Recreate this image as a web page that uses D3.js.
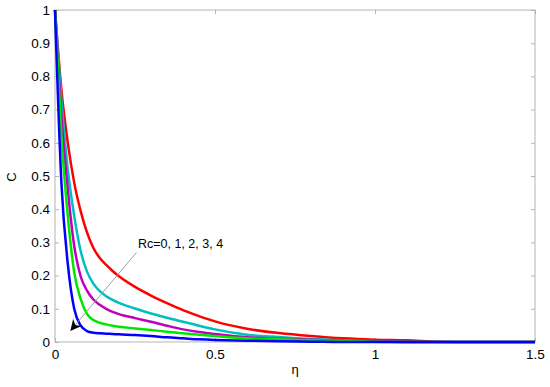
<!DOCTYPE html>
<html>
<head>
<meta charset="utf-8">
<script src="https://cdn.jsdelivr.net/npm/d3@7"></script>
<style>
  body { margin: 0; background: #fff; }
  text { font-family: "Liberation Sans", Arial, sans-serif; }
</style>
</head>
<body>
<script>
// eta grid shared by every curve
var eta = [0, 0.02, 0.04, 0.06, 0.08, 0.1, 0.12, 0.14, 0.16, 0.18, 0.2, 0.25, 0.3, 0.35, 0.4, 0.45, 0.5, 0.6, 0.7, 0.8, 0.9, 1.0, 1.1, 1.2, 1.3, 1.4, 1.5];

// concentration profiles, Rc = 0 .. 4
var cRc0 = [1, 0.76, 0.60, 0.48, 0.395, 0.33, 0.283, 0.253, 0.232, 0.214, 0.198, 0.166, 0.140, 0.117, 0.096, 0.078, 0.062, 0.040, 0.027, 0.018, 0.011, 0.007, 0.005, 0.001, 0, 0, 0];
var cRc1 = [1, 0.73, 0.52, 0.38, 0.275, 0.212, 0.176, 0.153, 0.138, 0.127, 0.118, 0.101, 0.086, 0.073, 0.061, 0.049, 0.038, 0.022, 0.015, 0.009, 0.005, 0.002, 0, 0, 0, 0, 0];
var cRc2 = [1, 0.68, 0.46, 0.29, 0.198, 0.155, 0.128, 0.112, 0.10, 0.091, 0.084, 0.072, 0.061, 0.049, 0.038, 0.030, 0.024, 0.014, 0.010, 0.007, 0.004, 0.002, 0, 0, 0, 0, 0];
var cRc3 = [1, 0.62, 0.38, 0.21, 0.13, 0.085, 0.066, 0.058, 0.053, 0.049, 0.046, 0.041, 0.036, 0.031, 0.026, 0.022, 0.018, 0.011, 0.008, 0.005, 0.003, 0.001, 0, 0, 0, 0, 0];
var cRc4 = [1, 0.48, 0.235, 0.10, 0.05, 0.033, 0.028, 0.026, 0.025, 0.024, 0.023, 0.021, 0.018, 0.014, 0.011, 0.008, 0.006, 0.004, 0.002, 0.001, 0, 0, 0, 0, 0, 0, 0];

var seriesColors = ["#ff0000", "#00bfbf", "#bf00bf", "#00e600", "#0000ff"];
var xTicks = [0, 0.5, 1, 1.5];
var yTicks = [0, 0.1, 0.2, 0.3, 0.4, 0.5, 0.6, 0.7, 0.8, 0.9, 1];
var annotation = "Rc=0, 1, 2, 3, 4";

var W = 550, H = 387;
var mLeft = 55, mRight = 535, mTop = 10, mBottom = 342;

var svg = d3.select("body").append("svg")
  .attr("width", W)
  .attr("height", H);

var x = d3.scaleLinear().domain([0, 1.5]).range([mLeft, mRight]);
var y = d3.scaleLinear().domain([0, 1]).range([mBottom, mTop]);

var frameColor = "#b4b4b4";

// ticks (inward, on all four sides) + labels
var xAxis = svg.append("g").attr("transform", "translate(0," + mBottom + ")")
  .call(d3.axisBottom(x).tickValues(xTicks).tickSizeInner(-4).tickSizeOuter(0).tickPadding(9)
    .tickFormat(function(d){ return d; }));
var xAxisTop = svg.append("g").attr("transform", "translate(0," + mTop + ")")
  .call(d3.axisTop(x).tickValues(xTicks).tickSizeInner(-4).tickSizeOuter(0).tickFormat(""));
var yAxis = svg.append("g").attr("transform", "translate(" + mLeft + ",0)")
  .call(d3.axisLeft(y).tickValues(yTicks).tickSizeInner(-4).tickSizeOuter(0).tickPadding(9)
    .tickFormat(function(d){ return d; }));
var yAxisRight = svg.append("g").attr("transform", "translate(" + mRight + ",0)")
  .call(d3.axisRight(y).tickValues(yTicks).tickSizeInner(-4).tickSizeOuter(0).tickFormat(""));

svg.selectAll(".domain").remove();
svg.selectAll(".tick line").attr("stroke", frameColor);
svg.selectAll(".tick text")
  .style("font-family", "'Liberation Sans', Arial, sans-serif")
  .style("font-size", "13.5px")
  .attr("fill", "#000");
xAxis.selectAll(".tick text").attr("dy", "0.71em").attr("y", 7);
yAxis.selectAll(".tick text").attr("x", -5);

// frame
svg.append("rect")
  .attr("x", mLeft).attr("y", mTop)
  .attr("width", mRight - mLeft).attr("height", mBottom - mTop)
  .attr("fill", "none")
  .attr("stroke", frameColor)
  .attr("stroke-width", 1);

// curves
var series = [cRc0, cRc1, cRc2, cRc3, cRc4];
var line = d3.line()
  .x(function(d, i){ return x(eta[i]); })
  .y(function(d){ return y(d); })
  .curve(d3.curveMonotoneX);

svg.selectAll("path.curve")
  .data(series)
  .enter()
  .append("path")
  .attr("class", "curve")
  .attr("d", line)
  .attr("fill", "none")
  .attr("stroke", function(d, i){ return seriesColors[i]; })
  .attr("stroke-width", 2.5)
  .attr("stroke-linejoin", "round");

// annotation arrow
svg.append("defs").append("marker")
  .attr("id", "head")
  .attr("viewBox", "0 0 10 10")
  .attr("refX", 9).attr("refY", 5)
  .attr("markerWidth", 11).attr("markerHeight", 11)
  .attr("markerUnits", "userSpaceOnUse")
  .attr("orient", "auto")
  .append("path")
  .attr("d", "M0,0 L10,5 L0,10 L3,5 Z")
  .attr("fill", "#000");

svg.append("line")
  .attr("x1", x(0.255)).attr("y1", y(0.27))
  .attr("x2", x(0.05)).attr("y2", y(0.036))
  .attr("stroke", "#a0a0a0")
  .attr("stroke-width", 1)
  .attr("marker-end", "url(#head)");

svg.append("text")
  .attr("x", 138).attr("y", 248)
  .style("font-size", "12.5px")
  .text(annotation);

// axis titles
svg.append("text")
  .attr("x", (mLeft + mRight) / 2).attr("y", 374)
  .attr("text-anchor", "middle")
  .style("font-size", "13px")
  .text("η");

svg.append("text")
  .attr("transform", "translate(16,177) rotate(-90)")
  .attr("text-anchor", "middle")
  .style("font-size", "13px")
  .text("C");
</script>
</body>
</html>
